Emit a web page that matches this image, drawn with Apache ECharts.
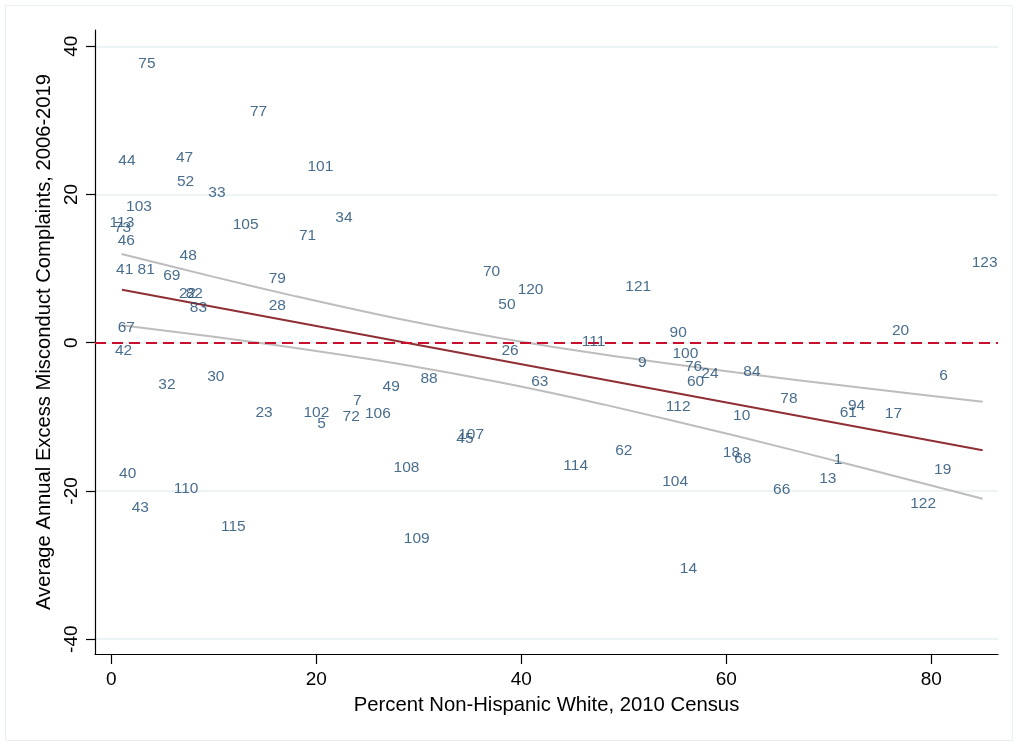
<!DOCTYPE html>
<html>
<head>
<meta charset="utf-8">
<script src="https://cdn.jsdelivr.net/npm/echarts@6/dist/echarts.min.js"></script>
<style>html,body{margin:0;padding:0;background:#fff;}#c{width:1018px;height:746px;}</style>
</head>
<body>
<div id="c"></div>
<script>
// Unit labels and their coordinates
var unitLabels = [75,77,44,47,52,33,103,113,73,46,105,48,41,81,69,79,22,82,83,28,67,42,32,30,23,40,110,43,115,101,34,71,70,50,120,26,88,49,7,102,5,72,106,107,45,108,109,121,111,90,100,9,76,24,60,84,63,112,10,62,114,18,68,104,66,14,20,6,78,94,61,17,1,13,19,122,123];
var pctWhite = [3.48,14.37,1.53,7.15,7.25,10.3,2.7,1.04,1.1,1.46,13.1,7.5,1.3,3.4,5.9,16.2,7.44,8.1,8.5,16.2,1.46,1.2,5.43,10.2,14.9,1.6,7.3,2.83,11.9,20.4,22.7,19.15,37.1,38.6,40.9,38.9,31.0,27.3,24.0,20.0,20.5,23.4,26.0,35.1,34.5,28.8,29.8,51.4,47.05,55.3,56.0,51.8,56.8,58.4,57.0,62.5,41.8,55.3,61.5,50.0,45.3,60.5,61.6,55.0,65.4,56.3,77.0,81.2,66.1,72.7,71.9,76.3,70.9,69.9,81.1,79.2,85.2];
var excessComplaints = [37.6,31.2,24.5,25.0,21.7,20.2,18.3,16.2,15.5,13.8,15.9,11.7,9.8,9.8,9.05,8.7,6.6,6.6,4.7,5.0,2.0,-1.04,-5.7,-4.6,-9.5,-17.7,-19.7,-22.3,-24.8,23.8,16.9,14.5,9.55,5.1,7.2,-1.08,-4.8,-6.0,-7.8,-9.4,-10.9,-10.0,-9.6,-12.4,-13.0,-16.9,-26.5,7.5,0.18,1.4,-1.5,-2.75,-3.3,-4.2,-5.3,-3.9,-5.2,-8.6,-9.8,-14.6,-16.6,-14.8,-15.7,-18.8,-19.8,-30.5,1.66,-4.4,-7.6,-8.5,-9.5,-9.6,-15.8,-18.4,-17.2,-21.7,10.8];

// Fitted line and confidence band
var fitX = [1.04, 85.0];
var fitY = [7.16, -14.5];
var ciX = [1, 10, 18, 28, 38, 48, 61, 73, 85];
var ciUpper = [11.97, 8.89, 6.26, 3.23, 0.61, -1.60, -4.03, -6.05, -7.95];
var ciLower = [2.37, 0.81, -0.70, -2.83, -5.37, -8.32, -12.59, -16.77, -21.05];

var xTicks = [0, 20, 40, 60, 80];
var yTicks = [-40, -20, 0, 20, 40];
var refY = 0;

var X_MIN = -1.59, X_MAX = 86.5, Y_MIN = -42, Y_MAX = 42.2;

var pts = unitLabels.map(function (l, i) { return [pctWhite[i], excessComplaints[i], l]; });
function pairs(xs, ys) { return xs.map(function (x, i) { return [x, ys[i]]; }); }

var FONT = '"Liberation Sans", Arial, Helvetica, sans-serif';
var chart = echarts.init(document.getElementById('c'), null, { renderer: 'canvas' });
chart.setOption({
  animation: false,
  backgroundColor: '#ffffff',
  textStyle: { fontFamily: FONT },
  graphic: [{
    type: 'rect', silent: true, z: -10,
    shape: { x: 5.5, y: 5.5, width: 1007, height: 735 },
    style: { fill: 'none', stroke: '#e9eef0', lineWidth: 1 }
  }],
  grid: { left: 95, right: 20, top: 30, bottom: 92, containLabel: false },
  xAxis: {
    type: 'value', min: X_MIN, max: X_MAX,
    name: 'Percent Non-Hispanic White, 2010 Census',
    nameLocation: 'middle', nameGap: 41,
    nameTextStyle: { fontSize: 20.3, color: '#000', fontFamily: FONT },
    axisLine: { show: true, onZero: false, lineStyle: { color: '#000', width: 1.2 } },
    axisTick: { show: true, customValues: xTicks, length: 10, lineStyle: { color: '#000', width: 1.2 } },
    axisLabel: { customValues: xTicks, fontSize: 19, color: '#000', margin: 16, fontFamily: FONT },
    splitLine: { show: false }
  },
  yAxis: {
    type: 'value', min: Y_MIN, max: Y_MAX,
    name: 'Average Annual Excess Misconduct Complaints, 2006-2019',
    nameLocation: 'middle', nameGap: 40, nameRotate: 90,
    nameTextStyle: { fontSize: 20.2, color: '#000', fontFamily: FONT },
    axisLine: { show: true, onZero: false, lineStyle: { color: '#000', width: 1.2 } },
    axisTick: { show: true, customValues: yTicks, length: 9, lineStyle: { color: '#000', width: 1.2 } },
    axisLabel: { customValues: yTicks, fontSize: 19, color: '#000', margin: 14, rotate: 90, fontFamily: FONT },
    splitLine: { show: false }
  },
  series: [
    {
      type: 'line', data: [], silent: true, z: 0, zlevel: 0,
      markLine: {
        silent: true, symbol: 'none', animation: false, z: 0,
        label: { show: false },
        lineStyle: { color: '#e6eff1', width: 1.5, type: 'solid' },
        data: yTicks.map(function (v) { return { yAxis: v }; })
      }
    },
    {
      type: 'line', data: pairs(ciX, ciUpper), smooth: 0.3, symbol: 'none', z: 2,
      lineStyle: { color: '#bdbdbd', width: 2 }
    },
    {
      type: 'line', data: pairs(ciX, ciLower), smooth: 0.3, symbol: 'none', z: 2,
      lineStyle: { color: '#bdbdbd', width: 2 }
    },
    {
      type: 'line', data: pairs(fitX, fitY), symbol: 'none', z: 3,
      lineStyle: { color: '#8f2f35', width: 2 },
      markLine: {
        silent: true, symbol: 'none', animation: false, z: 8,
        label: { show: false },
        lineStyle: { color: '#c8102e', width: 2, type: [11, 6], opacity: 1 },
        emphasis: { disabled: true },
        data: [{ yAxis: refY }]
      }
    },
    {
      type: 'scatter', data: pts, symbolSize: 2, z: 10,
      itemStyle: { color: 'rgba(0,0,0,0)' },
      label: {
        show: true, position: 'inside', color: '#1a476f', fontSize: 15.5, fontFamily: FONT,
        textBorderWidth: 0, offset: [0, 2],
        formatter: function (p) { return String(p.value[2]); }
      },
      labelLayout: { hideOverlap: false }
    }
  ]
});
</script>
</body>
</html>
